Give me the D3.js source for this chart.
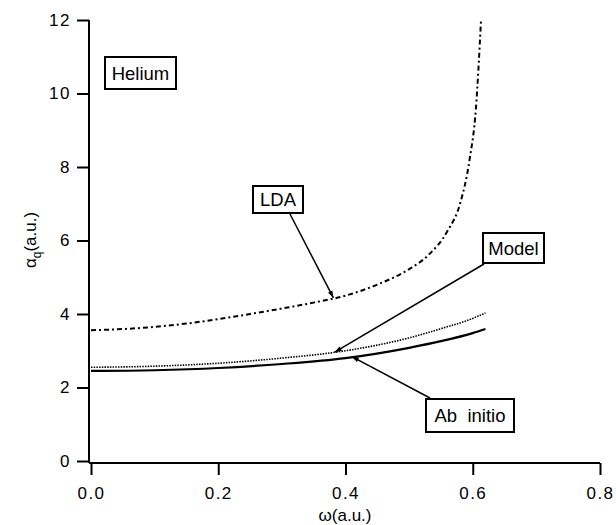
<!DOCTYPE html>
<html lang="en">
  <head>
    <meta charset="utf-8">
    <style>
      body { margin: 0; background: #fff; }
      text { font-family: "Liberation Sans", Arial, sans-serif; fill: #000; }
    </style>
  </head>
  <body>
    <div id="viz"></div>
    <script src="https://d3js.org/d3.v7.min.js"></script>
<script type="text/javascript">

var w = 616, h = 525;

// omega (a.u.) and polarizability values
var ldaOmega = [0, 0.05, 0.1, 0.15, 0.2, 0.25, 0.3, 0.35, 0.4, 0.45, 0.5, 0.53, 0.56, 0.58, 0.595, 0.605, 0.613];
var ldaAlpha = [3.56, 3.59, 3.65, 3.74, 3.86, 4.00, 4.15, 4.31, 4.50, 4.80, 5.22, 5.60, 6.25, 7.00, 8.20, 9.60, 12.0];

var modelOmega = [0, 0.1, 0.2, 0.3, 0.4, 0.5, 0.55, 0.6, 0.62];
var modelAlpha = [2.55, 2.58, 2.66, 2.80, 3.00, 3.35, 3.60, 3.88, 4.03];

var abOmega = [0, 0.1, 0.2, 0.3, 0.4, 0.5, 0.55, 0.6, 0.62];
var abAlpha = [2.45, 2.47, 2.53, 2.64, 2.80, 3.08, 3.26, 3.48, 3.59];

var xTicks = [0, 0.2, 0.4, 0.6, 0.8];
var yTicks = [0, 2, 4, 6, 8, 10, 12];

var svg = d3.select("#viz")
        .append("svg")
        .attr("width", w)
        .attr("height", h);

var x = d3.scaleLinear().domain([0, 0.8]).range([91, 600]);
var y = d3.scaleLinear().domain([0, 12]).range([461, 20]);

// axes
var yAxis = svg.append("g")
  .attr("transform", "translate(89,0)")
  .call(d3.axisLeft(y).tickValues(yTicks).tickSize(12).tickSizeOuter(0).tickPadding(6));
yAxis.select(".domain").attr("d", "M0,20V463").attr("stroke-width", 2);

var xAxis = svg.append("g")
  .attr("transform", "translate(0,463)")
  .call(d3.axisBottom(x).tickValues(xTicks).tickFormat(d3.format(".1f")).tickSize(12).tickSizeOuter(0).tickPadding(12));
xAxis.select(".domain").attr("d", "M89,0H600").attr("stroke-width", 2);

svg.selectAll(".tick line").attr("stroke-width", 2);
svg.selectAll(".tick text")
  .attr("font-size", 17)
  .attr("font-family", "Liberation Sans, Arial, sans-serif")
  .attr("letter-spacing", "1.5px");

svg.append("text")
  .attr("x", 345).attr("y", 521)
  .attr("text-anchor", "middle")
  .attr("font-size", 17)
  .text("\u03c9(a.u.)");

var ylab = svg.append("text")
  .attr("transform", "translate(36,240) rotate(-90)")
  .attr("text-anchor", "middle")
  .attr("font-size", 17);
ylab.append("tspan").text("\u03b1");
ylab.append("tspan").attr("font-size", 12).attr("dy", 5).text("q");
ylab.append("tspan").attr("dy", -5).text("(a.u.)");

// curves
function curve(xs, ys){
  return d3.line()
    .x((d,i)=>{ return x(xs[i]); })
    .y((d,i)=>{ return y(d); })
    .curve(d3.curveMonotoneX)(ys);
}

svg.append("path").attr("d", curve(ldaOmega, ldaAlpha))
  .attr("fill", "none").attr("stroke", "#000").attr("stroke-width", 2)
  .attr("stroke-dasharray", "5,3,2,3");

svg.append("path").attr("d", curve(modelOmega, modelAlpha))
  .attr("fill", "none").attr("stroke", "#000").attr("stroke-width", 1.6)
  .attr("stroke-dasharray", "1.5,1.2");

svg.append("path").attr("d", curve(abOmega, abAlpha))
  .attr("fill", "none").attr("stroke", "#000").attr("stroke-width", 2.2);

// labels with arrows
svg.append("defs").append("marker")
  .attr("id", "arrow")
  .attr("viewBox", "0 0 10 10")
  .attr("refX", 10).attr("refY", 5)
  .attr("markerWidth", 9).attr("markerHeight", 7)
  .attr("markerUnits", "userSpaceOnUse")
  .attr("orient", "auto")
  .append("path").attr("d", "M0,1.5L10,5L0,8.5z").attr("fill", "#000");

var labels = [
  {name:"Helium", bx:105, by:57, bw:71, bh:32},
  {name:"LDA", bx:253, by:186, bw:50, bh:27, sx:290, sy:214, tx:0.381, ty:4.44},
  {name:"Model", bx:483, by:233, bw:61, bh:30, sx:484, sy:264, tx:0.383, ty:2.96},
  {name:"Ab  initio", bx:426, by:399, bw:88, bh:33, sx:430, sy:398, tx:0.41, ty:2.84}
];

labels.forEach((d)=>{
  if(d.sx !== undefined){
    svg.append("line")
      .attr("x1", d.sx).attr("y1", d.sy)
      .attr("x2", x(d.tx)).attr("y2", y(d.ty))
      .attr("stroke", "#000").attr("stroke-width", 1.5)
      .attr("marker-end", "url(#arrow)");
  }
  svg.append("rect")
    .attr("x", d.bx).attr("y", d.by)
    .attr("width", d.bw).attr("height", d.bh)
    .attr("fill", "#fff").attr("stroke", "#000").attr("stroke-width", 2);
  svg.append("text")
    .attr("x", d.bx + d.bw / 2).attr("y", d.by + d.bh / 2 + 6.5)
    .attr("text-anchor", "middle")
    .attr("font-size", 18.5)
    .style("white-space", "pre")
    .text(d.name);
});

  </script>
  </body>
</html>
